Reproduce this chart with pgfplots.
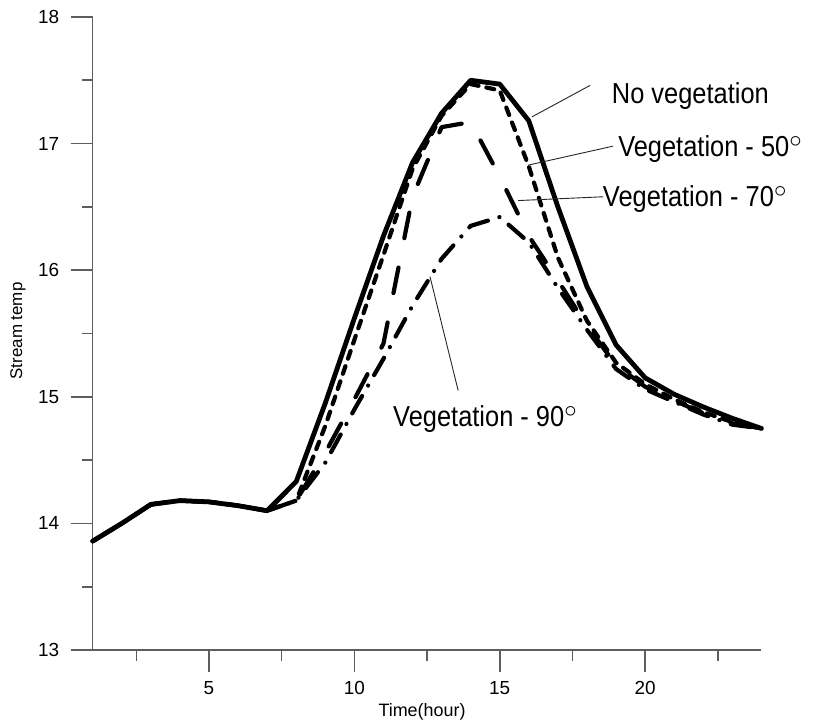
\documentclass[border=0pt]{standalone}
\usepackage{fontspec}
\setmainfont{Liberation Sans}
\newfontfamily\annfont[FakeStretch=0.88]{Liberation Sans}
\usepackage{pgfplots}
\usepackage{pgfplotstable}
\pgfplotsset{compat=1.18}
\definecolor{axisgray}{HTML}{5E5E5E}

% Hourly stream temperature for four shading cases
\pgfplotstableread{
hour novg  veg50 veg70 veg90
1    13.86 13.86 13.86 13.86
2    14.00 14.00 14.00 14.00
3    14.15 14.15 14.15 14.15
4    14.18 14.18 14.18 14.18
5    14.17 14.17 14.17 14.17
6    14.14 14.14 14.14 14.14
7    14.10 14.10 14.10 14.10
8    14.33 14.18 14.18 14.18
9    14.95 14.77 14.56 14.48
10   15.62 15.45 14.98 14.90
11   16.27 16.12 15.42 15.30
12   16.85 16.80 16.58 15.72
13   17.24 17.22 17.13 16.09
14   17.50 17.47 17.17 16.35
15   17.47 17.42 16.74 16.42
16   17.18 16.82 16.27 16.22
17   16.50 16.10 15.92 15.86
18   15.87 15.60 15.56 15.53
19   15.41 15.27 15.25 15.22
20   15.15 15.10 15.08 15.06
21   15.02 14.98 14.97 14.96
22   14.92 14.88 14.87 14.86
23   14.83 14.80 14.79 14.78
24   14.75 14.75 14.75 14.75
}\temps

\newcommand\dg{\raisebox{0.31em}{$\circ$}}

\begin{document}
\begin{tikzpicture}
\begin{axis}[
  scale only axis, width=668.7bp, height=633bp,
  xmin=1, xmax=24, ymin=13, ymax=18,
  axis x line*=bottom, axis y line*=left,
  axis line style={line width=1.6bp, color=axisgray},
  xtick={5,10,15,20}, minor xtick={2.5,7.5,12.5,17.5,22.5},
  ytick={13,14,15,16,17,18}, minor ytick={13.5,14.5,15.5,16.5,17.5},
  tick align=outside,
  major tick length=22bp, minor tick length=11bp,
  every tick/.style={line width=1.6bp, color=axisgray},
  tick label style={font=\fontsize{19}{21}\selectfont, text=black},
  xticklabel style={yshift=-6bp},
  yticklabel style={xshift=-8bp},
  /pgf/number format/assume math mode=true,
  clip=false,
  xlabel={Time(hour)}, ylabel={Stream temp},
  xlabel style={at={(axis description cs:0.4925,-0.098)}, anchor=center,
    font=\fontsize{18}{20}\selectfont},
  ylabel style={at={(axis description cs:-0.1117,0.504)}, anchor=center,
    font=\fontsize{17}{19}\selectfont},
]
\addplot[black, line width=4.2bp, line cap=round, line join=round,
  dash pattern=on 0.1bp off 12bp on 20bp off 12bp] table[x=hour, y=veg90] {\temps};
\addplot[black, line width=4.2bp, line cap=round, line join=round,
  dash pattern=on 26bp off 30bp] table[x=hour, y=veg70] {\temps};
\addplot[black, line width=4.2bp, line cap=round, line join=round,
  dash pattern=on 8bp off 8bp] table[x=hour, y=veg50] {\temps};
\addplot[black, line width=4.8bp, line cap=round, line join=round]
  table[x=hour, y=novg] {\temps};

% leader lines to the curve labels
\draw[black!85, line width=0.9bp] (axis cs:16.10,17.21) -- (axis cs:18.11,17.46);
\draw[black!85, line width=0.9bp] (axis cs:15.98,16.83) -- (axis cs:18.90,16.98);
\draw[black!85, line width=0.9bp] (axis cs:15.63,16.55) -- (axis cs:18.56,16.58);
\draw[black!85, line width=0.9bp] (axis cs:12.60,15.95) -- (axis cs:13.57,15.05);

\begin{scope}[every node/.style={anchor=base west, inner sep=0pt,
    font=\annfont\fontsize{29}{32}\selectfont}]
\node at (axis cs:18.853,17.313) {No vegetation};
\node at (axis cs:19.07,16.902) {Vegetation - 50\dg};
\node at (axis cs:18.544,16.50) {Vegetation - 70\dg};
\node at (axis cs:11.33,14.764) {Vegetation - 90\dg};
\end{scope}
\end{axis}
\pgfresetboundingbox
\path[use as bounding box] (-92.7bp,-76bp) rectangle (720.3bp,650bp);
\end{tikzpicture}
\end{document}
